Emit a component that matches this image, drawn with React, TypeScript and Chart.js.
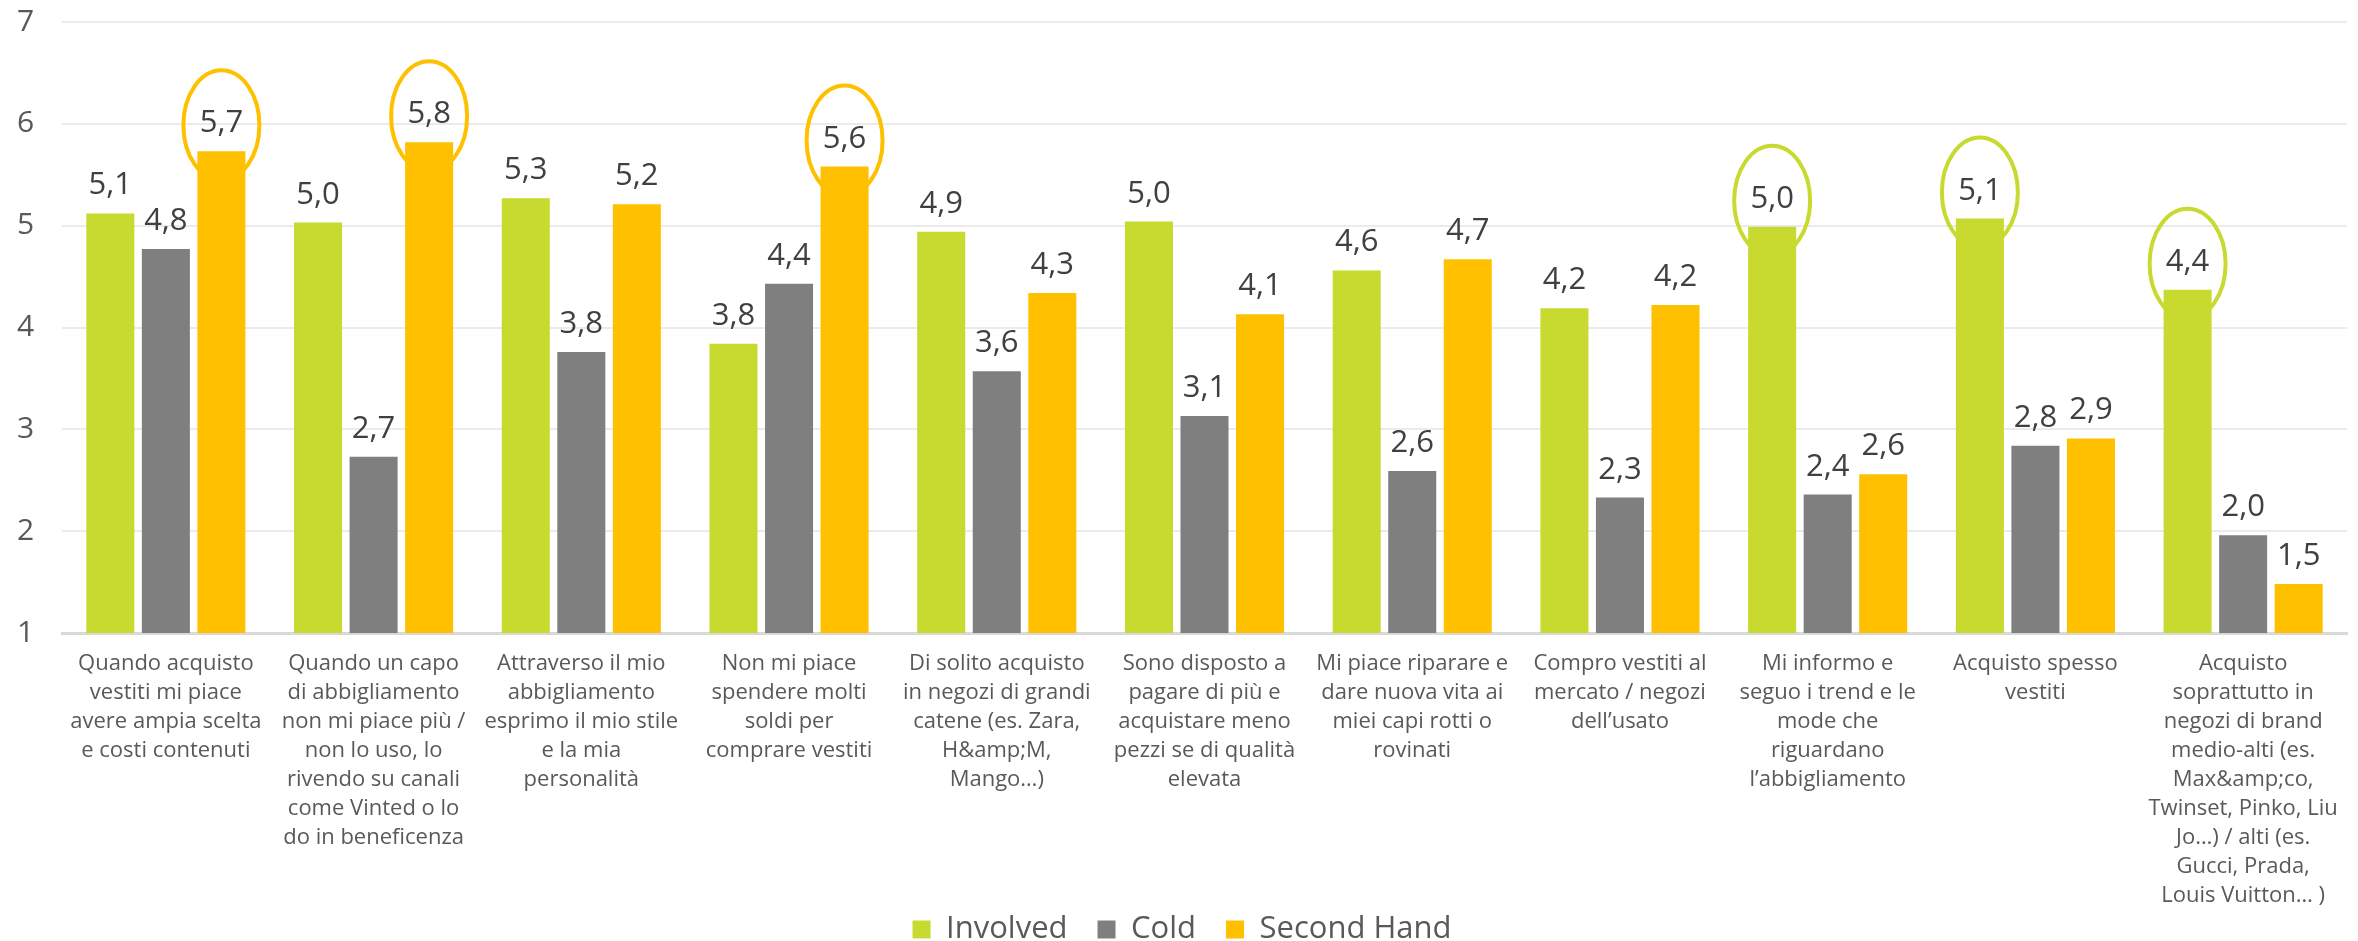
import React, { useEffect, useRef } from "react";
import { Chart, registerables } from "chart.js";

Chart.register(...registerables);

const categories: string[][] = [
  ["Quando acquisto", "vestiti mi piace", "avere ampia scelta", "e costi contenuti"],
  ["Quando un capo", "di abbigliamento", "non mi piace più /", "non lo uso, lo", "rivendo su canali", "come Vinted o lo", "do in beneficenza"],
  ["Attraverso il mio", "abbigliamento", "esprimo il mio stile", "e la mia", "personalità"],
  ["Non mi piace", "spendere molti", "soldi per", "comprare vestiti"],
  ["Di solito acquisto", "in negozi di grandi", "catene (es. Zara,", "H&amp;M,", "Mango…)"],
  ["Sono disposto a", "pagare di più e", "acquistare meno", "pezzi se di qualità", "elevata"],
  ["Mi piace riparare e", "dare nuova vita ai", "miei capi rotti o", "rovinati"],
  ["Compro vestiti al", "mercato / negozi", "dell’usato"],
  ["Mi informo e", "seguo i trend e le", "mode che", "riguardano", "l’abbigliamento"],
  ["Acquisto spesso", "vestiti"],
  ["Acquisto", "soprattutto in", "negozi di brand", "medio-alti (es.", "Max&amp;co,", "Twinset, Pinko, Liu", "Jo…) / alti (es.", "Gucci, Prada,", "Louis Vuitton… )"],
];

const seriesNames = ["Involved", "Cold", "Second Hand"];
const involved = [5.12, 5.03, 5.27, 3.84, 4.94, 5.04, 4.56, 4.19, 4.99, 5.07, 4.37];
const cold = [4.77, 2.73, 3.76, 4.43, 3.57, 3.13, 2.59, 2.33, 2.36, 2.84, 1.96];
const secondHand = [5.73, 5.82, 5.21, 5.58, 4.34, 4.13, 4.67, 4.22, 2.56, 2.91, 1.48];
const seriesColors = ["#C8DA2F", "#7F7F7F", "#FFC000"];

const yMin = 1;
const yMax = 7;
const yStep = 1;

// highlighted values (dataset index, category index)
const highlightDatasets = [2, 2, 2, 0, 0, 0];
const highlightIndexes = [0, 1, 3, 8, 9, 10];

const FONT = "'Open Sans', 'Noto Sans', sans-serif";

const valueLabelsPlugin = {
  id: "valueLabels",
  afterLayout(chart: any) {
    // let the category labels extend down to the bottom of the canvas (no clipping)
    const xs = chart.scales.x;
    if (xs) xs.bottom = chart.height;
  },
  afterDatasetsDraw(chart: any) {
    const ctx = chart.ctx;
    ctx.save();
    ctx.font = `31px ${FONT}`;
    ctx.fillStyle = "#404040";
    ctx.textAlign = "center";
    ctx.textBaseline = "alphabetic";
    chart.data.datasets.forEach((ds: any, di: number) => {
      const meta = chart.getDatasetMeta(di);
      meta.data.forEach((bar: any, i: number) => {
        const v = ds.data[i] as number;
        const txt = v.toFixed(1).replace(".", ",");
        ctx.fillText(txt, bar.x, bar.y - 19);
      });
    });
    // highlight ellipses
    ctx.lineWidth = 4;
    highlightDatasets.forEach((di, k) => {
      const idx = highlightIndexes[k];
      const bar: any = chart.getDatasetMeta(di).data[idx];
      ctx.strokeStyle = seriesColors[di];
      ctx.beginPath();
      ctx.ellipse(bar.x, bar.y - 26, 38, 55, 0, 0, Math.PI * 2);
      ctx.stroke();
    });
    ctx.restore();
  },
};

export default function App() {
  const ref = useRef<HTMLCanvasElement>(null);
  useEffect(() => {
    if (!ref.current) return;
    const chart = new Chart(ref.current, {
      type: "bar",
      data: {
        labels: categories,
        datasets: [
          { label: seriesNames[0], data: involved, backgroundColor: seriesColors[0] },
          { label: seriesNames[1], data: cold, backgroundColor: seriesColors[1] },
          { label: seriesNames[2], data: secondHand, backgroundColor: seriesColors[2] },
        ],
      },
      options: {
        responsive: false,
        animation: false,
        devicePixelRatio: 1,
        datasets: { bar: { categoryPercentage: 0.802, barPercentage: 0.865 } },
        layout: { padding: { top: 22, right: 11, left: 17, bottom: -14 } },
        plugins: {
          tooltip: { enabled: false },
          legend: {
            position: "bottom",
            labels: {
              boxWidth: 18,
              boxHeight: 18,
              padding: 30,
              color: "#595959",
              font: { family: FONT, size: 31 },
            },
          },
        },
        scales: {
          x: {
            grid: { display: false, drawTicks: false },
            border: { display: true, color: "#D9D9D9", width: 3 },
            ticks: {
              color: "#595959",
              font: { family: FONT, size: 22, lineHeight: "29px" },
              padding: 16,
              maxRotation: 0,
              minRotation: 0,
              autoSkip: false,
            },
            afterFit(scale: any) {
              scale.height = 251;
            },
          },
          y: {
            min: yMin,
            max: yMax,
            grid: { color: "#EBEBEB", lineWidth: 2, drawTicks: false },
            border: { display: false },
            ticks: {
              stepSize: yStep,
              color: "#595959",
              font: { family: FONT, size: 30 },
              padding: 0,
              crossAlign: "far",
            },
            afterFit(scale: any) {
              scale.width = 45;
            },
          },
        },
      },
      plugins: [valueLabelsPlugin],
    });
    return () => chart.destroy();
  }, []);
  return (
    <div style={{ position: "fixed", left: 0, top: 0, width: 2358, height: 941, background: "#fff" }}>
      <canvas ref={ref} width={2358} height={941} style={{ display: "block" }} />
    </div>
  );
}
